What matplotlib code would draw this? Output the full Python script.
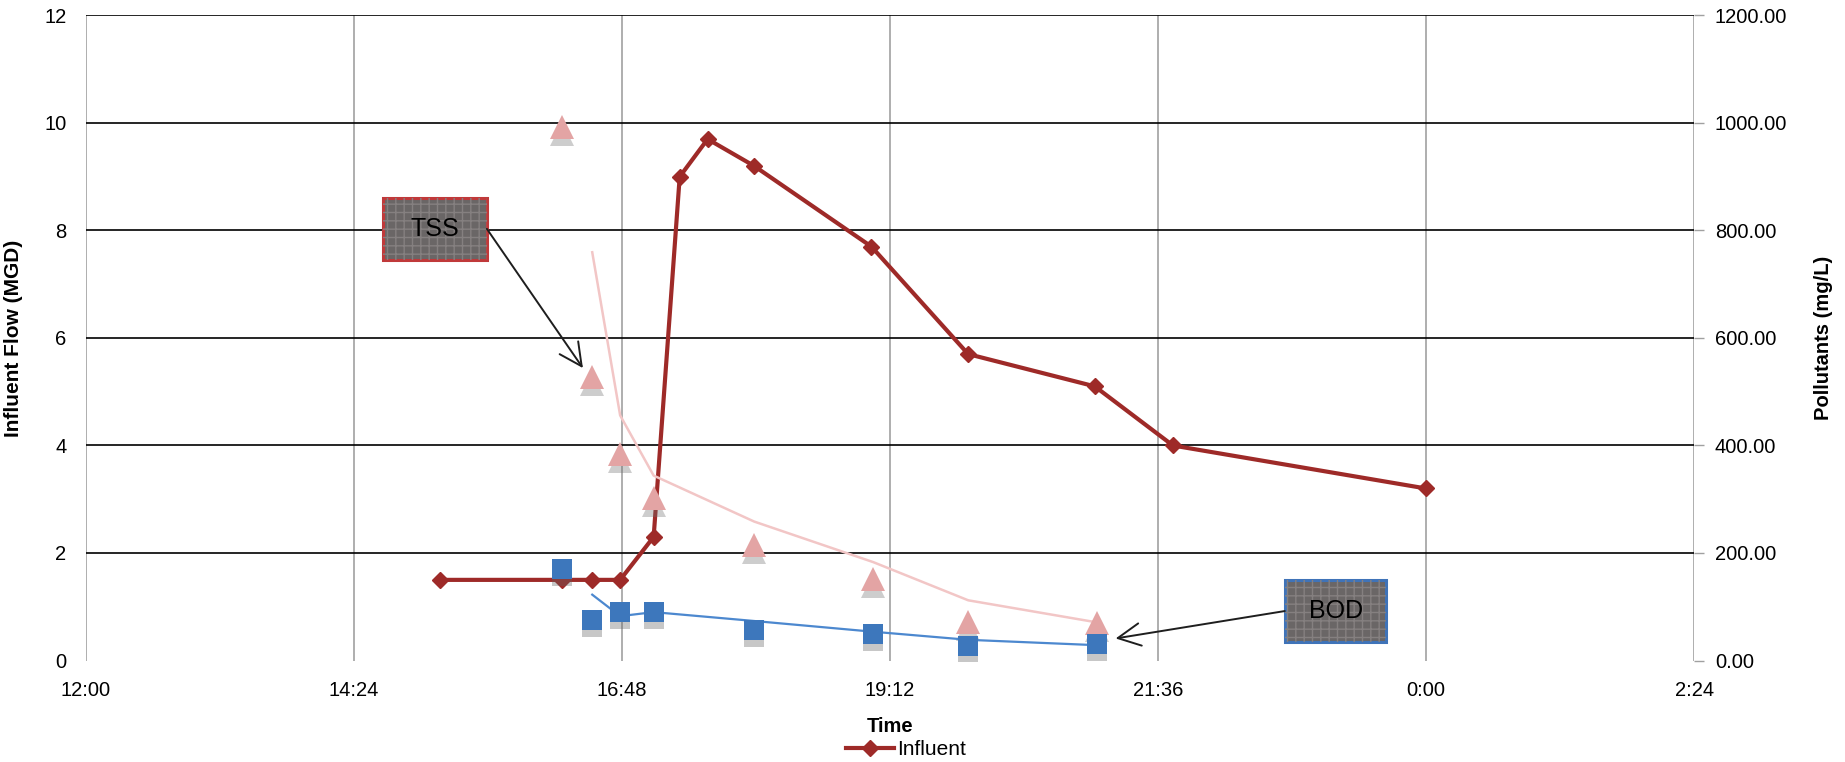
import numpy as np
import matplotlib
matplotlib.use('Agg')
import matplotlib.pyplot as plt
from matplotlib import font_manager
from matplotlib.patches import Rectangle
from matplotlib.ticker import FuncFormatter
from matplotlib.transforms import offset_copy

# influent flow record (left axis, MGD)
INFLUENT_TIMES = ['15:10', '16:16', '16:32', '16:47', '17:05', '17:19', '17:34',
                  '17:59', '19:02', '19:54', '21:02', '21:44', '24:00']
INFLUENT_MGD = [1.5, 1.5, 1.5, 1.5, 2.3, 9.0, 9.7, 9.2, 7.7, 5.7, 5.1, 4.0, 3.2]

# grab samples (right axis, mg/L)
SAMPLE_TIMES = ['16:16', '16:32', '16:47', '17:05', '17:59', '19:03', '19:54', '21:03']
TSS_MGL = [992, 527, 385, 303, 214, 152, 72, 70]
BOD_MGL = [170, 75, 90, 90, 57, 50, 27, 30]

X_TICKS = [12 + 2.4 * i for i in range(7)]   # 12:00 .. 2:24 next day
Y_TICKS = [0, 2, 4, 6, 8, 10, 12]
Y2_TICKS = [0, 200, 400, 600, 800, 1000, 1200]

INFLUENT_RED = '#9E2A28'
TSS_PINK = '#E3A4A4'
TSS_TREND = '#F2C6C6'
BOD_BLUE = '#3D77BC'
BOD_TREND = '#4C88CF'

names = {f.name for f in font_manager.fontManager.ttflist}
NARROW = 'Liberation Sans Narrow' if 'Liberation Sans Narrow' in names else 'Liberation Sans'
plt.rcParams['font.family'] = ['Liberation Sans', 'DejaVu Sans']


def to_hours(stamps):
    out = []
    for s in stamps:
        h, m = s.split(':')
        out.append(int(h) + int(m) / 60)
    return np.array(out)


def clock(h, _pos=None):
    mins = int(round(h * 60))
    return f'{(mins // 60) % 24}:{mins % 60:02d}'


def moving_avg(t, v):
    # two-period moving average, plotted at the later sample
    v = np.asarray(v, float)
    return t[1:], (v[:-1] + v[1:]) / 2


def callout(ax, label, center, size, tip, edge, side):
    cx, cy = center
    w, h = size
    ax.add_patch(Rectangle((cx - w / 2, cy - h / 2), w, h, facecolor='#6a6666',
                           edgecolor=edge, lw=2.2, zorder=5))
    ax.add_patch(Rectangle((cx - w / 2, cy - h / 2), w, h, facecolor='none',
                           edgecolor='#858080', hatch='++', lw=0, zorder=5))
    ax.text(cx, cy, label, ha='center', va='center', fontsize=18,
            family=NARROW, color='black', zorder=6)
    start = (cx + side * w / 2, cy)
    ax.annotate('', xy=tip, xytext=start,
                arrowprops=dict(arrowstyle='->,head_length=0.9,head_width=0.45',
                                color='#1e1e1e', lw=1.4, mutation_scale=18,
                                shrinkA=0, shrinkB=0), zorder=6)


t_inf = to_hours(INFLUENT_TIMES)
t_smp = to_hours(SAMPLE_TIMES)

fig = plt.figure(figsize=(18.45, 7.62), dpi=100)
ax = fig.add_axes([0.0466, 0.1332, 0.8716, 0.8465])
ax2 = ax.twinx()

ax.set_xlim(X_TICKS[0], X_TICKS[-1])
ax.set_ylim(0, 12)
ax2.set_ylim(0, 1200)
ax.set_xticks(X_TICKS)
ax.set_yticks(Y_TICKS)
ax2.set_yticks(Y2_TICKS)
ax.xaxis.set_major_formatter(FuncFormatter(clock))
ax2.yaxis.set_major_formatter(FuncFormatter(lambda v, p: f'{v:.2f}'))

for a in (ax, ax2):
    for sp in a.spines.values():
        sp.set_visible(False)

ax.grid(axis='x', color='#A8A8A8', lw=1.3)
ax.set_axisbelow(True)
for yv in Y_TICKS[1:]:
    ax.axhline(yv, color='black', lw=1.2, zorder=0.8)

ax.tick_params(axis='x', length=0, pad=15, labelsize=14.5)
ax.tick_params(axis='y', length=0, pad=14, labelsize=14.5)
ax2.tick_params(axis='y', length=7, width=1, color='#A0A0A0', pad=8, labelsize=14.5)

ax.set_xlabel('Time', fontsize=14.5, fontweight='bold', labelpad=12)
ax.set_ylabel('Influent Flow (MGD)', fontsize=15, fontweight='bold')
ax.yaxis.set_label_coords(-0.039, 0.5)
ax2.set_ylabel('Pollutants (mg/L)', fontsize=14.5, fontweight='bold')
ax2.yaxis.set_label_coords(1.0746, 0.5)

# influent flow
inf_line, = ax.plot(t_inf, INFLUENT_MGD, color=INFLUENT_RED, lw=3, marker='D',
                    ms=8.5, mec=INFLUENT_RED, zorder=3)

# soft drop shadows under the sample markers
shadow = offset_copy(ax2.transData, fig=fig, x=0, y=-7, units='dots')
ax2.plot(t_smp, TSS_MGL, ls='none', marker='^', ms=17, color='#707070',
         alpha=0.35, mew=0, transform=shadow, zorder=1)
ax2.plot(t_smp, BOD_MGL, ls='none', marker='s', ms=15, color='#606060',
         alpha=0.35, mew=0, transform=shadow, zorder=1)

# TSS samples with moving-average trend
tt, tv = moving_avg(t_smp, TSS_MGL)
ax2.plot(tt, tv, color=TSS_TREND, lw=1.8, zorder=2)
ax2.plot(t_smp, TSS_MGL, ls='none', marker='^', ms=17, color=TSS_PINK,
         mew=0, zorder=3)

# BOD samples with moving-average trend
bt, bv = moving_avg(t_smp, BOD_MGL)
ax2.plot(bt, bv, color=BOD_TREND, lw=1.6, zorder=2)
ax2.plot(t_smp, BOD_MGL, ls='none', marker='s', ms=15, color=BOD_BLUE,
         mew=0, zorder=3)

callout(ax, 'TSS', center=(15.125, 8.03), size=(0.93, 1.15),
        tip=(16.45, 5.44), edge='#C0393A', side=1)
callout(ax, 'BOD', center=(23.19, 0.92), size=(0.91, 1.15),
        tip=(21.22, 0.41), edge='#3F73B8', side=-1)

fig.legend(handles=[inf_line], labels=['Influent'], loc='center',
           bbox_to_anchor=(0.491, 0.016), frameon=False, fontsize=15,
           handlelength=2.3, handletextpad=0.15)

fig.savefig('out.png', dpi=100)
